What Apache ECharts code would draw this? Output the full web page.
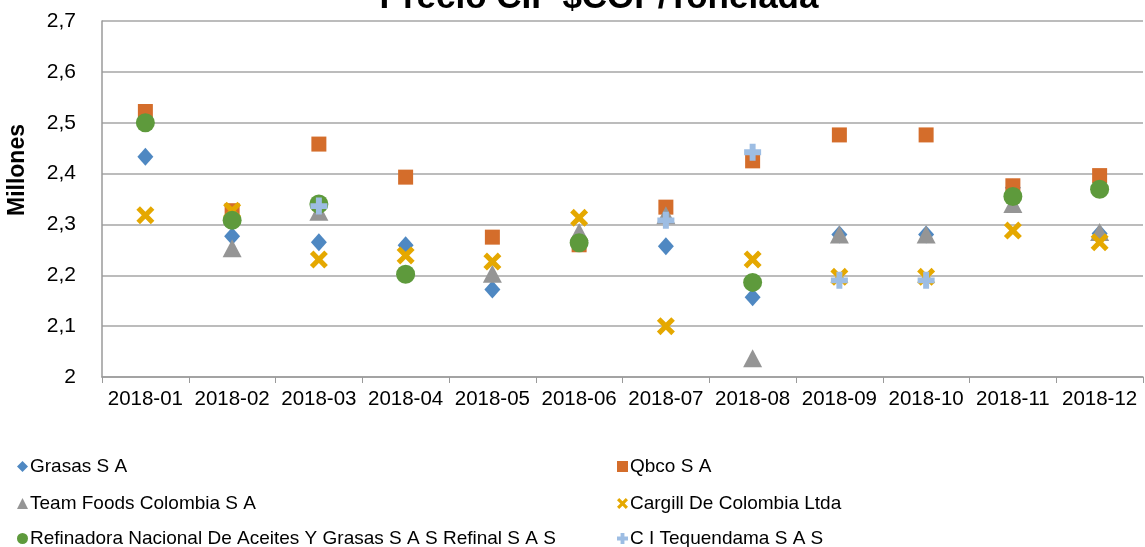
<!DOCTYPE html>
<html>
<head>
<meta charset="utf-8">
<script src="https://cdn.jsdelivr.net/npm/echarts@6/dist/echarts.min.js"></script>
<style>
html,body{margin:0;padding:0;background:#fff;}
#chart{width:1145px;height:547px;}
</style>
</head>
<body>
<div id="chart"></div>
<script>
var categories = ['2018-01','2018-02','2018-03','2018-04','2018-05','2018-06','2018-07','2018-08','2018-09','2018-10','2018-11','2018-12'];
var seriesNames = ['Grasas S A','Qbco S A','Team Foods Colombia S A','Cargill De Colombia Ltda','Refinadora Nacional De Aceites Y Grasas S A S Refinal S A S','C I Tequendama S A S'];
var grasas     = [2.433, 2.277, 2.265, 2.259, 2.172, 2.265, 2.257, 2.157, 2.280, 2.280, 2.372, 2.282];
var qbco       = [2.522, 2.327, 2.458, 2.393, 2.275, 2.260, 2.334, 2.425, 2.476, 2.476, 2.376, 2.396];
var teamFoods  = [null, 2.253, 2.325, null, 2.203, 2.285, 2.318, 2.037, 2.280, 2.280, 2.340, 2.285];
var cargill    = [2.318, 2.327, 2.231, 2.239, 2.227, 2.313, 2.100, 2.231, 2.197, 2.197, 2.288, 2.265];
var refinal    = [2.500, 2.308, 2.340, 2.202, null, 2.264, null, 2.186, null, null, 2.355, 2.369];
var tequendama = [null, null, 2.336, null, null, null, 2.308, 2.442, 2.190, 2.190, null, null];
var yTicks = [2, 2.1, 2.2, 2.3, 2.4, 2.5, 2.6, 2.7];

var FONT = 'Liberation Sans';
var X_PATH = 'path://M0,4 L4,0 L10,6 L16,0 L20,4 L14,10 L20,16 L16,20 L10,14 L4,20 L0,16 L6,10 Z';
var PLUS_PATH = 'path://M6.5,0 L13.5,0 L13.5,6.5 L20,6.5 L20,13.5 L13.5,13.5 L13.5,20 L6.5,20 L6.5,13.5 L0,13.5 L0,6.5 L6.5,6.5 Z';
var colors = ['#4F88C2','#D46D2B','#959595','#E5A800','#5E9A3C','#9DBDE3'];
var symbols = ['diamond','rect','triangle',X_PATH,'circle',PLUS_PATH];
var sizes = [[16,18],15,[19,18],18,19,17];
var dataArr = [grasas,qbco,teamFoods,cargill,refinal,tequendama];

var series = seriesNames.map(function(n,i){
  return {
    name:n, type:'scatter', data:dataArr[i], symbol:symbols[i], symbolSize:sizes[i],
    itemStyle:{color:colors[i], opacity:1}, z:2+i
  };
});

var legendPos = [[12,452],[612,452],[12,489],[612,489],[12,524],[612,524]];
var legends = seriesNames.map(function(n,i){
  return {
    data:[{name:n, icon:symbols[i]}], left:legendPos[i][0], top:legendPos[i][1],
    itemWidth:11, itemHeight:11, itemGap:2,
    textStyle:{fontFamily:FONT, fontSize:19, color:'#000', padding:[0,0,0,-3]},
    selectedMode:false
  };
});

var chart = echarts.init(document.getElementById('chart'), null, {renderer:'canvas'});
chart.setOption({
  animation:false,
  backgroundColor:'#fff',
  color:colors,
  title:{text:'Precio CIF $COP/Tonelada', left:594, textAlign:'center', top:-24,
    textStyle:{fontFamily:FONT, fontSize:35, fontWeight:'bold', color:'#000'}},
  graphic:[{type:'text', left:6, top:124, rotation:Math.PI/2,
    style:{text:'Millones', font:'bold 23px "Liberation Sans"', fill:'#000'}}],
  legend:legends,
  grid:{left:102, right:2, top:21, bottom:170, containLabel:false},
  xAxis:{type:'category', data:categories, boundaryGap:true,
    axisLine:{lineStyle:{color:'#9a9a9a', width:1.5}},
    axisTick:{show:true, length:6, lineStyle:{color:'#9a9a9a'}},
    axisLabel:{fontFamily:FONT, fontSize:20.5, color:'#000', margin:12, interval:0},
    splitLine:{show:false}},
  yAxis:{type:'value', min:2, max:2.7, interval:0.1,
    axisLine:{show:true, lineStyle:{color:'#9a9a9a', width:1.5}},
    axisTick:{show:false},
    axisLabel:{fontFamily:FONT, fontSize:21, color:'#000', margin:26,
      formatter:function(v){ var r=Math.round(v*10)/10; return (r===2?'2':r.toFixed(1).replace('.',',')); }},
    splitLine:{show:true, lineStyle:{color:'#a6a6a6', width:1.5}}},
  series:series
});
</script>
</body>
</html>
